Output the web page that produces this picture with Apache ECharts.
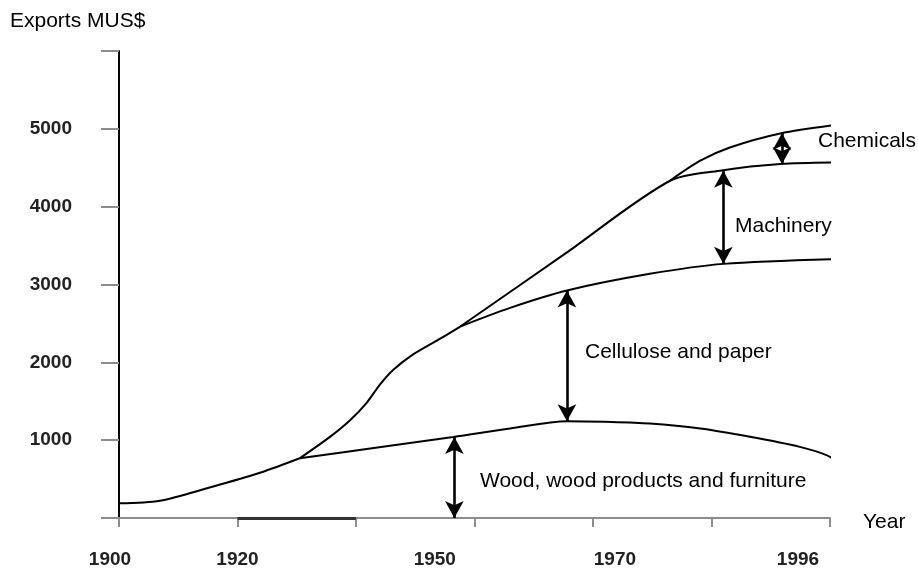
<!DOCTYPE html>
<html>
<head>
<meta charset="utf-8">
<script src="https://cdn.jsdelivr.net/npm/echarts@6/dist/echarts.min.js"></script>
<style>
  html, body { margin: 0; padding: 0; background: #fff; }
  #main { width: 918px; height: 569px; }
</style>
</head>
<body>
<div id="main"></div>
<script>
// x is the position along the time axis, one tick step = 20 units (the scale is not linear in years)
const tickValues = [0, 20, 40, 60, 80, 100, 120];
const yearLabels = ['1900', '1920', '1950', '1970', '1996'];
const yearPos = [0, 20, 53.3, 83.7, 114.6];

// total exports before the branches split off (MUS$)
const baseLine = [[0, 188], [6.9, 222], [15.4, 394], [23.8, 581], [30.5, 767]];
// wood, wood products and furniture (top of the bottom band)
const woodLine = [[30.5, 767], [43, 900], [56.4, 1040], [66, 1150], [75.6, 1244], [82, 1236], [89.6, 1214], [98.1, 1150], [106.5, 1043], [114.9, 914], [119.4, 808], [121.7, 701]];
// steep rise of the total after 1930
const trunkLine = [[30.5, 767], [35.6, 1042], [39, 1256], [41.8, 1480], [44.1, 1720], [46.3, 1905], [49.7, 2105], [54.2, 2304], [57.6, 2460]];
// cellulose and paper (top of its band)
const celluloseLine = [[57.6, 2460], [66, 2700], [75.6, 2923], [89.6, 3137], [102, 3265], [122, 3329]];
// machinery (top of its band)
const machineryLine = [[57.6, 2460], [75.3, 3396], [93, 4333], [101.4, 4462], [111.6, 4547], [122.8, 4568]];
// chemicals (top of all)
const chemicalsLine = [[93, 4333], [98.1, 4590], [103.1, 4760], [111.6, 4940], [121.1, 5051]];

// double arrows: [x, from, to]
const arrows = [[56.6, 0, 1040], [75.6, 1244, 2923], [102, 3265, 4462], [111.9, 4547, 4945]];

const labelTexts = ['Chemicals', 'Machinery', 'Cellulose and paper', 'Wood, wood products and furniture'];

const FONT = 'Liberation Sans, Arial, Helvetica, sans-serif';
var chart = echarts.init(document.getElementById('main'), null, { renderer: 'canvas' });

function curve(data) {
  return {
    type: 'line',
    data: data,
    smooth: 0.3,
    symbol: 'none',
    clip: false,
    silent: true,
    lineStyle: { color: '#000', width: 2 }
  };
}

var series = [baseLine, woodLine, trunkLine, celluloseLine, machineryLine, chemicalsLine].map(curve);

// arrows between the bands, plus the dark stroke on the x axis
series.push({
  type: 'line',
  data: [],
  symbol: 'none',
  markLine: {
    silent: true,
    animation: false,
    symbol: ['arrow', 'arrow'],
    symbolSize: [14, 17],
    label: { show: false },
    lineStyle: { color: '#000', width: 2.6, type: 'solid' },
    data: arrows.map(a => [{ coord: [a[0], a[1]] }, { coord: [a[0], a[2]] }]).concat([
      [{ coord: [20, 0], symbol: 'none', lineStyle: { color: '#333', width: 3 } },
       { coord: [40, 0], symbol: 'none' }]
    ])
  }
});

var option = {
  animation: false,
  backgroundColor: '#fff',
  grid: { left: 119, right: 88, top: 51, bottom: 51 },
  xAxis: {
    type: 'value',
    min: 0,
    max: 120,
    interval: 20,
    axisLine: { show: true, lineStyle: { color: '#8c8c8c', width: 2 } },
    axisTick: { show: true, length: 9, lineStyle: { color: '#8c8c8c', width: 2 } },
    splitLine: { show: false },
    axisLabel: {
      customValues: yearPos,
      margin: 32,
      formatter: function (v) {
        var i = yearPos.indexOf(v);
        if (i < 0) return '';
        return i === 0 ? '{a|' + yearLabels[i] + '}' : yearLabels[i];
      },
      color: '#222',
      fontWeight: 'bold',
      fontSize: 19,
      fontFamily: FONT,
      rich: { a: { padding: [0, 18, 0, 0], color: '#222', fontWeight: 'bold', fontSize: 19, fontFamily: FONT } }
    }
  },
  yAxis: {
    type: 'value',
    min: 0,
    max: 6000,
    interval: 1000,
    axisLine: { show: true, lineStyle: { color: '#000', width: 2 } },
    axisTick: { show: true, length: 18, lineStyle: { color: '#8c8c8c', width: 2 } },
    splitLine: { show: false },
    axisLabel: {
      margin: 47,
      formatter: function (v) { return (v === 0 || v === 6000) ? '' : String(v); },
      color: '#222',
      fontWeight: 'bold',
      fontSize: 19,
      fontFamily: FONT
    }
  },
  graphic: [
    { type: 'text', left: 10, top: 11, style: { text: 'Exports MUS$', fontSize: 21, fontFamily: FONT, fill: '#000' } },
    { type: 'text', left: 863, top: 512, style: { text: 'Year', fontSize: 21, fontFamily: FONT, fill: '#000' } },
    { type: 'text', left: 818, top: 131, style: { text: labelTexts[0], fontSize: 21, fontFamily: FONT, fill: '#000' } },
    { type: 'text', left: 735, top: 216, style: { text: labelTexts[1], fontSize: 21, fontFamily: FONT, fill: '#000' } },
    { type: 'text', left: 585, top: 342, style: { text: labelTexts[2], fontSize: 21, fontFamily: FONT, fill: '#000' } },
    { type: 'text', left: 480, top: 471, style: { text: labelTexts[3], fontSize: 21, fontFamily: FONT, fill: '#000' } }
  ],
  series: series
};

chart.setOption(option);
</script>
</body>
</html>
